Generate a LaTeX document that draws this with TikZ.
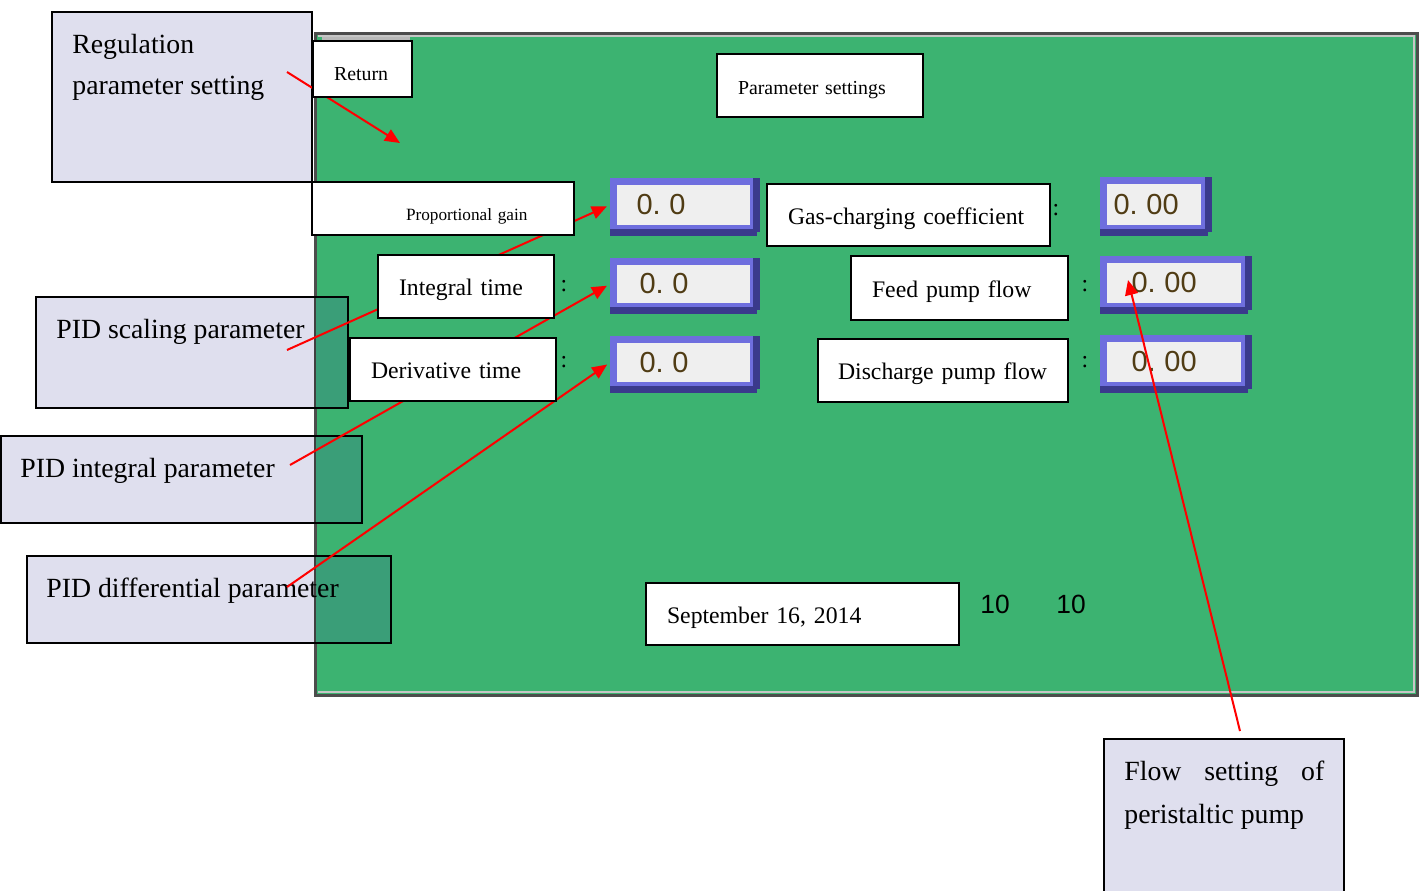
\documentclass[tikz,border=0pt]{standalone}
\usepackage{fontspec}
\setmainfont{Liberation Serif}
\newfontfamily\numfont{Liberation Sans}
\usetikzlibrary{arrows.meta}
\definecolor{panelgreen}{RGB}{60,179,113}
\definecolor{panelshade}{RGB}{58,158,120}
\definecolor{calloutfill}{RGB}{223,223,238}
\definecolor{bevellight}{RGB}{110,110,222}
\definecolor{beveldark}{RGB}{58,58,140}
\definecolor{fieldgray}{RGB}{239,239,239}
\definecolor{digitbrown}{RGB}{80,60,20}

\begin{document}
\begin{tikzpicture}[x=0.02cm, y=-0.02cm,
	callout/.style={draw, fill=calloutfill, line width=0.04cm, inner sep=0pt},
	overpanel/.style={callout,
		path picture={\fill[panelshade] (paneledge |- path picture bounding box.north)
				rectangle (path picture bounding box.south east);
			\draw[black!75, line width=0.04cm] (paneledge |- path picture bounding box.north)
				-- (paneledge |- path picture bounding box.south);}},
	calltext/.style={anchor=north west, inner sep=0pt, align=left, font=\fontsize{15.8}{23}\selectfont},
	namebox/.style={draw, fill=white, line width=0.04cm, inner xsep=0.42cm, inner ysep=0pt,
		align=left, text height=10.8pt, text depth=0pt, font=\fontsize{13.5}{16}\selectfont},
	smallname/.style={namebox, font=\fontsize{11.3}{13}\selectfont},
	valuebox/.style={draw=bevellight, fill=fieldgray, line width=0.14cm, inner ysep=0pt,
		align=left, text=digitbrown, font=\numfont\fontsize{16.5}{18}\selectfont,
		append after command={\pgfextra{\let\vnode=\tikzlastnode}
			(\vnode.north east) edge[beveldark, line width=0.14cm, line cap=square] (\vnode.south east)
			(\vnode.south east) edge[beveldark, line width=0.14cm, line cap=square] (\vnode.south west)}},
	colon/.style={inner sep=0pt, font=\fontsize{13.5}{16}\selectfont},
	clock/.style={inner sep=0pt, font=\numfont\fontsize{15}{18}\selectfont},
	tipline/.style={red, line width=0.04cm, -{Triangle[length=0.3cm, width=0.26cm]}}]

	\useasboundingbox (0,0) rectangle (1419,890);
	\coordinate (paneledge) at (315,0);

	% Screen panel
	\fill[panelgreen] (315,34) rectangle (1417,694);
	\draw[gray!60!black, line width=0.06cm] (315,33) rectangle (1417,695);
	\draw[gray!45, line width=0.03cm] (318,36) -- (1414,36) -- (1414,692) -- (318,692);
	\fill[gray!55] (322,37) rectangle (410,42);

	% Callouts
	\node[callout, minimum width=5.2cm, minimum height=3.4cm] (regbox) at (182,97) {};
	\node[calltext] (regtext) at ([shift={(0.42cm,-0.46cm)}]regbox.north west) {Regulation\\parameter setting};

	\node[overpanel, minimum width=6.24cm, minimum height=2.22cm] (scalbox) at (192,352.5) {};
	\node[calltext] (scaltext) at ([shift={(0.42cm,-0.46cm)}]scalbox.north west) {PID scaling parameter};

	\node[overpanel, minimum width=7.22cm, minimum height=1.74cm] (integbox) at (181.5,479.5) {};
	\node[calltext] (integtext) at ([shift={(0.4cm,-0.46cm)}]integbox.north west) {PID integral parameter};

	\node[overpanel, minimum width=7.28cm, minimum height=1.74cm] (diffbox) at (209,599.5) {};
	\node[calltext] (difftext) at ([shift={(0.4cm,-0.46cm)}]diffbox.north west) {PID differential parameter};

	\node[callout, minimum width=4.8cm, minimum height=3.06cm] (flowbox) at (1224,815.5) {};
	\node[calltext, font=\fontsize{15.8}{24.4}\selectfont] (flowtext) at ([shift={(0.42cm,-0.46cm)}]flowbox.north west)
		{\makebox[4cm][s]{Flow setting of}\\peristaltic pump};

	% Value fields
	\node[valuebox, inner xsep=0.46cm, text width=1.88cm, minimum height=0.94cm] (gainval) at (683.5,205) {0.\kern0.3em0};
	\node[valuebox, inner xsep=0.52cm, text width=1.76cm, minimum height=0.9cm] (integval) at (683.5,284) {0.\kern0.3em0};
	\node[valuebox, inner xsep=0.52cm, text width=1.76cm, minimum height=0.92cm] (derival) at (683.5,362.5) {0.\kern0.3em0};
	\node[valuebox, inner xsep=0.2cm, text width=1.62cm, minimum height=0.96cm] (gasval) at (1154,204.5) {0.\kern0.3em00};
	\node[valuebox, inner xsep=0.56cm, text width=1.7cm, minimum height=0.94cm] (feedval) at (1174,283) {0.\kern0.3em00};
	\node[valuebox, inner xsep=0.56cm, text width=1.7cm, minimum height=0.94cm] (discval) at (1174,362) {0.\kern0.3em00};

	% Pointers
	\coordinate (regtip) at (287,72);
	\coordinate (retpoint) at (400,143);
	\coordinate (scaltip) at (287,350);
	\coordinate (integtip) at (290,465);
	\coordinate (difftip) at (287,587);
	\coordinate (flowtip) at (1240,731);
	\coordinate (feedpoint) at (1128,280);
	\draw[tipline] (regtip) -- (retpoint);
	\draw[tipline, shorten >=0.07cm] (scaltip) -- (gainval.west);
	\draw[tipline, shorten >=0.07cm] (integtip) -- (integval.west);
	\draw[tipline, shorten >=0.07cm] (difftip) -- (derival.west);
	\draw[tipline] (flowtip) -- (feedpoint);

	% Screen labels
	\node[smallname, text width=1.14cm, minimum height=1.12cm, text height=13.3pt] (return) at (362.5,69) {Return};
	\node[smallname, text width=3.28cm, minimum height=1.26cm, text height=9.8pt] (title) at (820,85.5) {Parameter settings};
	\node[namebox, text width=4.4cm, minimum height=1.06cm, text height=13.5pt, font=\fontsize{9.8}{12}\selectfont] (gain) at (443,208.5)
		{\hspace*{1.46cm}Proportional gain};
	\node[namebox, text width=2.68cm, minimum height=1.26cm] (integ) at (466,286.5) {Integral time};
	\node[namebox, text width=3.28cm, minimum height=1.26cm] (deriv) at (453,369.5) {Derivative time};
	\node[namebox, text width=4.82cm, minimum height=1.24cm] (gas) at (908.5,215) {Gas-charging coefficient};
	\node[namebox, text width=3.5cm, minimum height=1.28cm] (feed) at (959.5,288) {Feed pump flow};
	\node[namebox, inner xsep=0.4cm, text width=4.2cm, minimum height=1.26cm] (disc) at (943,370.5) {Discharge pump flow};
	\node[namebox, text width=5.42cm, minimum height=1.24cm] (date) at (802.5,614) {September 16, 2014};

	% Colons and clock
	\node[colon] (integcol) at (564,286) {:};
	\node[colon] (dericol) at (564,362) {:};
	\node[colon] (gascol) at (1056,210) {:};
	\node[colon] (feedcol) at (1085,286) {:};
	\node[colon] (disccol) at (1085,362) {:};
	\node[clock] (hour) at (995,604) {10};
	\node[clock] (minute) at (1071,604) {10};
\end{tikzpicture}
\end{document}
